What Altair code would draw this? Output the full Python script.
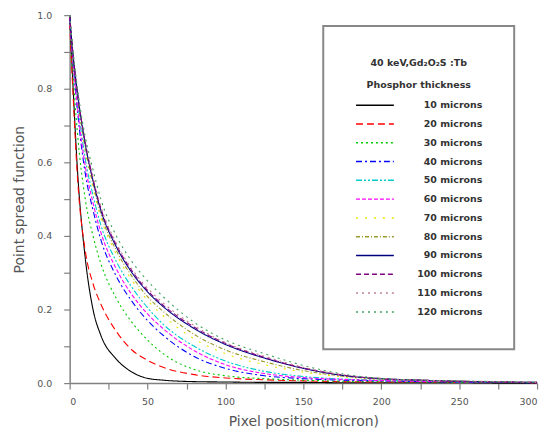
import altair as alt
import pandas as pd

x_um = [0, 2, 5, 10, 15, 20, 30, 40, 50, 60, 80, 100, 125, 150, 175, 200, 225, 250, 275, 300]

names = ["10 microns", "20 microns", "30 microns", "40 microns", "50 microns", "60 microns",
         "70 microns", "80 microns", "90 microns", "100 microns", "110 microns", "120 microns"]

s10 = [1.0, 0.82, 0.58, 0.34, 0.20, 0.13, 0.065, 0.03, 0.013, 0.008, 0.004, 0.003, 0.002, 0.002, 0.001, 0.001, 0.001, 0.001, 0.0, 0.0]
s20 = [0.98, 0.80, 0.56, 0.36, 0.27, 0.215, 0.14, 0.09, 0.062, 0.043, 0.023, 0.014, 0.009, 0.006, 0.004, 0.003, 0.003, 0.002, 0.002, 0.001]
s30 = [0.99, 0.85, 0.68, 0.50, 0.40, 0.325, 0.23, 0.165, 0.117, 0.08, 0.037, 0.02, 0.012, 0.008, 0.005, 0.004, 0.003, 0.002, 0.002, 0.001]
s40 = [0.99, 0.88, 0.74, 0.57, 0.47, 0.39, 0.29, 0.222, 0.17, 0.13, 0.072, 0.04, 0.02, 0.012, 0.008, 0.006, 0.004, 0.003, 0.002, 0.001]
s50 = [1.0, 0.89, 0.77, 0.61, 0.51, 0.43, 0.33, 0.26, 0.205, 0.16, 0.10, 0.06, 0.032, 0.018, 0.011, 0.008, 0.006, 0.004, 0.003, 0.002]
s60 = [0.99, 0.88, 0.75, 0.59, 0.49, 0.41, 0.31, 0.24, 0.188, 0.148, 0.088, 0.05, 0.026, 0.015, 0.010, 0.007, 0.005, 0.004, 0.003, 0.001]
s70 = [1.0, 0.89, 0.78, 0.63, 0.53, 0.45, 0.35, 0.28, 0.225, 0.183, 0.12, 0.08, 0.05, 0.03, 0.017, 0.010, 0.007, 0.005, 0.003, 0.002]
s80 = [1.0, 0.90, 0.78, 0.64, 0.54, 0.46, 0.36, 0.29, 0.235, 0.195, 0.132, 0.09, 0.058, 0.034, 0.019, 0.011, 0.008, 0.005, 0.003, 0.002]
s90 = [1.0, 0.90, 0.79, 0.65, 0.55, 0.47, 0.37, 0.30, 0.248, 0.208, 0.148, 0.105, 0.068, 0.04, 0.021, 0.012, 0.008, 0.005, 0.003, 0.002]
s100 = [1.0, 0.90, 0.79, 0.655, 0.555, 0.475, 0.375, 0.305, 0.252, 0.212, 0.152, 0.108, 0.07, 0.041, 0.022, 0.012, 0.008, 0.005, 0.003, 0.002]
s110 = [1.0, 0.91, 0.80, 0.66, 0.56, 0.48, 0.38, 0.31, 0.258, 0.218, 0.156, 0.11, 0.073, 0.043, 0.023, 0.013, 0.008, 0.006, 0.004, 0.002]
s120 = [1.0, 0.91, 0.80, 0.67, 0.58, 0.50, 0.40, 0.33, 0.278, 0.235, 0.165, 0.117, 0.08, 0.048, 0.025, 0.013, 0.008, 0.006, 0.004, 0.002]

series = [s10, s20, s30, s40, s50, s60, s70, s80, s90, s100, s110, s120]

colors = ["#000000", "#ff0000", "#00cc00", "#0000ff", "#00cccc", "#ff00ff",
          "#e6e600", "#9a9a30", "#000080", "#800080", "#c08090", "#40a060"]
dashes = [[1, 0], [7, 4], [2, 3], [6, 3, 2, 3], [6, 2, 2, 2, 2, 2], [4, 2],
          [2, 7], [4, 2, 1, 2], [1, 0], [5, 3], [2, 4], [2, 4]]

rows = []
for name, vals in zip(names, series):
    for xv, yv in zip(x_um, vals):
        rows.append({"x": xv, "psf": yv, "series": name})
df = pd.DataFrame(rows)

y_ticks = [round(i * 0.1, 1) for i in range(11)]
x_ticks = [i * 25 for i in range(13)]

FONT = "DejaVu Sans"

chart = alt.Chart(df).mark_line(strokeWidth=1.1, interpolate="monotone").encode(
    x=alt.X("x:Q", scale=alt.Scale(domain=[0, 300], nice=False),
            axis=alt.Axis(title="Pixel position(micron)", values=x_ticks,
                          labelExpr="datum.value % 50 == 0 ? datum.label : ''",
                          labelPadding=8, titlePadding=8)),
    y=alt.Y("psf:Q", scale=alt.Scale(domain=[0, 1.0], nice=False),
            axis=alt.Axis(title="Point spread function", values=y_ticks, format=".1f",
                          labelExpr="round(datum.value*10) % 2 == 0 ? datum.label : ''",
                          labelPadding=12, titlePadding=10)),
    color=alt.Color("series:N", sort=names,
                    scale=alt.Scale(domain=names, range=colors),
                    legend=alt.Legend(
                        title=["40 keV,Gd\u2082O\u2082S :Tb", "Phosphor thickness"],
                        orient="none", legendX=255, legendY=11,
                        symbolType="stroke", symbolSize=1444, symbolStrokeWidth=1.5,
                        clipHeight=10, rowPadding=8.9,
                        labelAlign="right", labelOffset=88,
                        labelFontSize=9.5, labelFont=FONT, labelColor="#333",
                        labelFontWeight="bold",
                        titleFontSize=9.5, titleFont=FONT, titleColor="#333",
                        titleFontWeight="bold", titleAnchor="middle", titleLineHeight=22,
                        titlePadding=11,
                        padding=32, strokeColor="#888", fillColor="white")),
    strokeDash=alt.StrokeDash("series:N", sort=names,
                              scale=alt.Scale(domain=names, range=dashes),
                              legend=None),
    order=alt.Order("series:N"),
).properties(
    width=470, height=370,
    autosize=alt.AutoSizeParams(type="none"),
    padding={"left": 62, "top": 6, "right": 10, "bottom": 50},
).configure_view(stroke=None).configure_axis(
    grid=False, domainColor="#808080", domainWidth=1.5, tickColor="#808080", tickWidth=1.2,
    tickSize=6, labelColor="#555", labelFontSize=9.5, labelFont=FONT,
    titleColor="#555", titleFontSize=14, titleFont=FONT, titleFontWeight="normal",
).configure_legend(strokeWidth=2)

chart.save("out.html", embed_options={"renderer": "svg", "actions": False})
